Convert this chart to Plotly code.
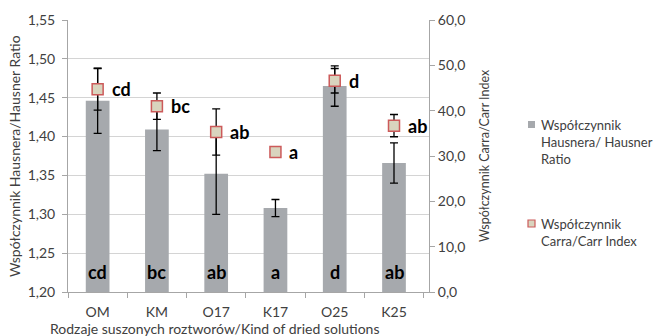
import plotly.graph_objects as go

categories = ["OM", "KM", "O17", "K17", "O25", "K25"]
hausner = [1.446, 1.409, 1.352, 1.308, 1.465, 1.366]
hausner_err = [0.042, 0.027, 0.052, 0.011, 0.026, 0.026]
carr = [44.7, 41.0, 35.3, 30.9, 46.6, 36.7]
carr_err = [4.6, 2.9, 5.1, 0.8, 2.7, 2.45]
letters_hausner = ["cd", "bc", "ab", "a", "d", "ab"]
letters_carr = ["cd", "bc", "ab", "a", "d", "ab"]
legend_names = ["Współczynnik<br>Hausnera/ Hausner<br>Ratio", "Współczynnik<br>Carra/Carr Index"]

FONT = "Lato"
FS = 14
TXT = "#404040"
BAR_COLOR = "#A6A9AD"
MK_FILL = "#D9D4BE"
MK_LINE = "#CC5A5A"

# plot area in pixels
L, R, T, B = 68, 429, 20, 292
W, H = 658, 336
def px(x):
    return (x - L) / (R - L)
def py(y):
    return (B - y) / (B - T)

fig = go.Figure()
fig.add_trace(go.Bar(
    x=categories, y=hausner, width=0.4,
    marker=dict(color=BAR_COLOR, line=dict(width=0)),
    error_y=dict(type="data", array=hausner_err, color="black", thickness=1.3, width=4),
    name=legend_names[0], showlegend=False,
))
fig.add_trace(go.Scatter(
    x=categories, y=carr, yaxis="y2", mode="markers",
    marker=dict(symbol="square", size=11, color=MK_FILL, line=dict(color=MK_LINE, width=1.5)),
    error_y=dict(type="data", array=carr_err, color="black", thickness=1.3, width=4),
    name=legend_names[1], showlegend=False,
))

annotations = []
for c, v, t in zip(categories, carr, letters_carr):
    annotations.append(dict(x=c, y=v, yref="y2", text="<b>%s</b>" % t, showarrow=False,
                            xanchor="left", yanchor="middle", xshift=12,
                            font=dict(family=FONT, size=18, color="black")))
for c, t in zip(categories, letters_hausner):
    annotations.append(dict(x=c, y=1.2, yref="y", text="<b>%s</b>" % t, showarrow=False,
                            xanchor="center", yanchor="bottom", yshift=7,
                            font=dict(family=FONT, size=18, color="black")))
annotations.append(dict(x=px(214), xref="paper", y=py(328), yref="paper",
                        text="Rodzaje suszonych roztworów/Kind of dried solutions",
                        showarrow=False, xanchor="center", yanchor="middle",
                        font=dict(family=FONT, size=FS, color=TXT)))
annotations.append(dict(x=px(14), xref="paper", y=py(156), yref="paper",
                        text="Współczynnik Hausnera/Hausner Ratio", textangle=-90, showarrow=False,
                        xanchor="center", yanchor="middle", font=dict(family=FONT, size=FS, color=TXT)))
annotations.append(dict(x=px(484), xref="paper", y=py(156), yref="paper",
                        text="Współczynnik Carra/Carr Index", textangle=-90, showarrow=False,
                        xanchor="center", yanchor="middle", font=dict(family=FONT, size=12.5, color=TXT)))
# manual legend
leg_tops = [115, 214]
for name, top in zip(legend_names, leg_tops):
    annotations.append(dict(x=px(539), xref="paper", y=py(top), yref="paper", text=name,
                            showarrow=False, xanchor="left", yanchor="top", align="left",
                            font=dict(family=FONT, size=13, color=TXT)))
shapes = [
    dict(type="rect", xref="paper", yref="paper", x0=px(528), x1=px(535), y0=py(128), y1=py(121),
         fillcolor=BAR_COLOR, line=dict(width=0)),
    dict(type="rect", xref="paper", yref="paper", x0=px(528), x1=px(535), y0=py(227), y1=py(220),
         fillcolor=MK_FILL, line=dict(color=MK_LINE, width=1.2)),
]

fig.update_layout(
    width=W, height=H,
    margin=dict(l=L, r=W - R, t=T, b=H - B),
    paper_bgcolor="white", plot_bgcolor="white",
    separators=", ",
    font=dict(family=FONT, size=FS, color=TXT),
    showlegend=False,
    xaxis=dict(showline=True, linecolor="#A6A6A6", ticks="outside", tickson="boundaries",
               ticklen=5, tickcolor="#A6A6A6", showgrid=False, tickfont=dict(size=FS),
               ticklabelstandoff=7),
    yaxis=dict(range=[1.2, 1.55], dtick=0.05, tickformat=".2f", showline=True, linecolor="#A6A6A6",
               ticks="outside", ticklen=5, tickcolor="#A6A6A6", gridcolor="#D4D4D4", zeroline=False,
               ticklabelstandoff=4),
    yaxis2=dict(range=[0, 60], dtick=10, tickformat=".1f", overlaying="y", side="right",
                showline=True, linecolor="#A6A6A6", ticks="outside", ticklen=5, tickcolor="#A6A6A6",
                showgrid=False, zeroline=False),
    annotations=annotations,
    shapes=shapes,
)

fig.write_html("out.html", config={"displayModeBar": False},
               post_script="document.body.style.margin='0';")
